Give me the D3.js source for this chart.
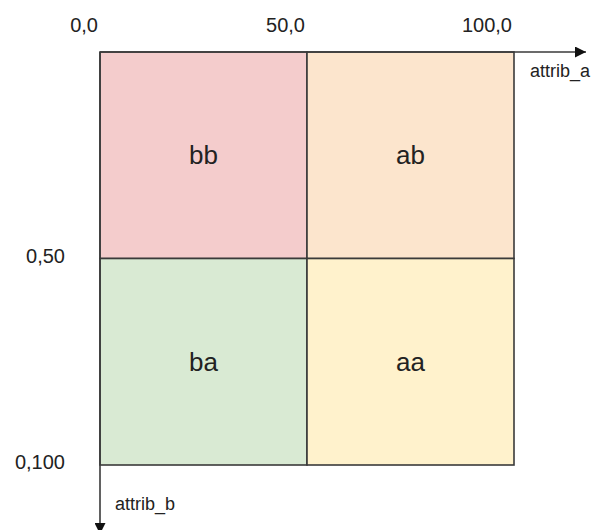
<!DOCTYPE html>
<html>
<head>
<meta charset="utf-8">
<script src="https://cdn.jsdelivr.net/npm/d3@7"></script>
<style>
  body { margin: 0; background: #fff; }
  text { font-family: "Liberation Sans", Arial, sans-serif; fill: #222; }
</style>
</head>
<body>
<div id="chart"></div>
<script>
// cells of the grid: a range and b range, label in the middle
const cellLabels = ['bb', 'ab', 'ba', 'aa'];
const cellA = [[0, 50], [50, 100], [0, 50], [50, 100]];
const cellB = [[0, 50], [0, 50], [50, 100], [50, 100]];
const cellColors = ['#f4cccc', '#fce5cd', '#d9ead3', '#fff2cc'];

const xTicks = [0, 50, 100];
const xTickLabels = ['0,0', '50,0', '100,0'];
const yTicks = [50, 100];
const yTickLabels = ['0,50', '0,100'];

const W = 593, H = 530;

const svg = d3.select('#chart').append('svg')
    .attr('width', W)
    .attr('height', H);

const x = d3.scaleLinear().domain([0, 100]).range([100, 514]);
const y = d3.scaleLinear().domain([0, 100]).range([52, 465]);

svg.append('defs').append('marker')
    .attr('id', 'arrow')
    .attr('viewBox', '0 0 10 10')
    .attr('refX', 10)
    .attr('refY', 5)
    .attr('markerWidth', 14)
    .attr('markerHeight', 11)
    .attr('markerUnits', 'userSpaceOnUse')
    .attr('orient', 'auto')
    .append('path')
    .attr('d', 'M0,0 L10,5 L0,10 Z')
    .attr('fill', '#111');

// cells
const cells = cellLabels.map((d, i) => ({label: d, a: cellA[i], b: cellB[i], color: cellColors[i]}));

svg.selectAll('.cell').data(cells)
    .enter()
    .append('rect')
    .attr('class', 'cell')
    .attr('x', d => x(d.a[0]))
    .attr('y', d => y(d.b[0]))
    .attr('width', d => x(d.a[1]) - x(d.a[0]))
    .attr('height', d => y(d.b[1]) - y(d.b[0]))
    .style('fill', d => d.color)
    .style('stroke', '#3a3a3a')
    .style('stroke-width', 1.6);

svg.selectAll('.cell-label').data(cells)
    .enter()
    .append('text')
    .attr('class', 'cell-label')
    .attr('x', d => (x(d.a[0]) + x(d.a[1])) / 2)
    .attr('y', d => (y(d.b[0]) + y(d.b[1])) / 2)
    .attr('dy', '0.35em')
    .style('text-anchor', 'middle')
    .style('font-size', '26px')
    .text(d => d.label);

// axes with arrows
svg.append('line')
    .attr('x1', x(0)).attr('y1', y(0))
    .attr('x2', 586).attr('y2', y(0))
    .attr('stroke', '#3a3a3a')
    .attr('stroke-width', 1.6)
    .attr('marker-end', 'url(#arrow)');

svg.append('line')
    .attr('x1', x(0)).attr('y1', y(0))
    .attr('x2', x(0)).attr('y2', 534)
    .attr('stroke', '#3a3a3a')
    .attr('stroke-width', 1.6)
    .attr('marker-end', 'url(#arrow)');

// tick labels
svg.selectAll('.xtick').data(xTicks)
    .enter()
    .append('text')
    .attr('class', 'xtick')
    .attr('x', d => x(d) - 2)
    .attr('y', 32)
    .style('text-anchor', 'end')
    .style('font-size', '20px')
    .text((d, i) => xTickLabels[i]);

svg.selectAll('.ytick').data(yTicks)
    .enter()
    .append('text')
    .attr('class', 'ytick')
    .attr('x', 65)
    .attr('y', d => y(d) + 4)
    .style('text-anchor', 'end')
    .style('font-size', '20px')
    .text((d, i) => yTickLabels[i]);

// axis names
svg.append('text')
    .attr('x', 530)
    .attr('y', 77)
    .style('font-size', '18px')
    .text('attrib_a');

svg.append('text')
    .attr('x', 115)
    .attr('y', 510)
    .style('font-size', '18px')
    .text('attrib_b');
</script>
</body>
</html>
